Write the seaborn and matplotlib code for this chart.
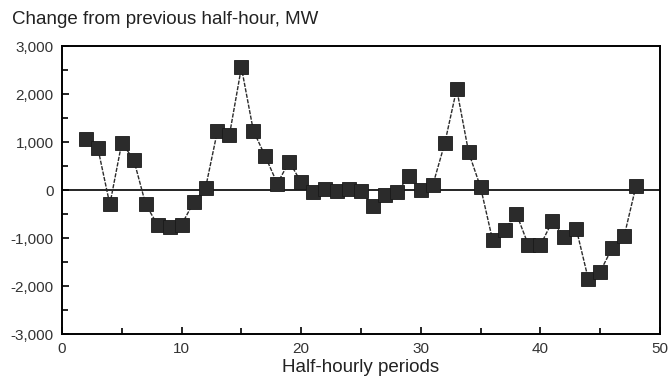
import matplotlib
matplotlib.use("Agg")
import matplotlib.pyplot as plt
from matplotlib.ticker import MultipleLocator, FuncFormatter
import seaborn as sns
import pandas as pd

# Half-hourly change in demand (MW)
periods = list(range(2, 49))
change_mw = [1060, 870, -300, 985, 630, -300, -730, -765, -720, -260,
             40, 1235, 1145, 2555, 1235, 700, 135, 590, 160, -50,
             20, -30, 20, -15, -340, -100, -50, 290, 0, 100,
             970, 2105, 785, 55, -1040, -830, -500, -1150, -1150, -650,
             -970, -810, -1850, -1700, -1210, -965, 90]

title_text = "Change from previous half-hour, MW"
xlabel_text = "Half-hourly periods"

df = pd.DataFrame({"period": periods, "change": change_mw})

sns.set_theme(style="white")
plt.rcParams["font.family"] = ["Liberation Sans", "DejaVu Sans"]

fig = plt.figure(figsize=(6.68, 3.80), dpi=100)
ax = fig.add_axes([62 / 668, 1 - 334 / 380, 598 / 668, 288 / 380])

ax.axhline(0, color="black", lw=1.2, zorder=1)
sns.lineplot(data=df, x="period", y="change", ax=ax, color="#2b2b2b",
             lw=1.0, linestyle=(0, (3, 1)), marker="s", markersize=9.5,
             markerfacecolor="#2b2b2b", markeredgecolor="#1a1a1a",
             markeredgewidth=0.6, zorder=3)

ax.set_xlim(0, 50)
ax.set_ylim(-3000, 3000)
ax.xaxis.set_major_locator(MultipleLocator(10))
ax.xaxis.set_minor_locator(MultipleLocator(5))
ax.yaxis.set_major_locator(MultipleLocator(1000))
ax.yaxis.set_minor_locator(MultipleLocator(500))
ax.yaxis.set_major_formatter(FuncFormatter(lambda v, p: f"{int(v):,}"))

ax.tick_params(which="both", direction="in", left=True, bottom=True,
               colors="black", labelcolor="#333333", labelsize=11, width=1.2)
ax.tick_params(which="major", length=5)
ax.tick_params(which="minor", length=4)
ax.tick_params(axis="y", which="major", pad=6)
ax.tick_params(axis="x", which="major", pad=6)

for s in ax.spines.values():
    s.set_color("black")
    s.set_linewidth(1.4)

ax.set_xlabel(xlabel_text, fontsize=13.5, color="#222222", labelpad=2)
ax.set_ylabel("")
fig.text(12 / 668, 1 - 20 / 380, title_text, fontsize=13.5, color="#222222",
         ha="left", va="center")

fig.savefig("out.png", dpi=100)
